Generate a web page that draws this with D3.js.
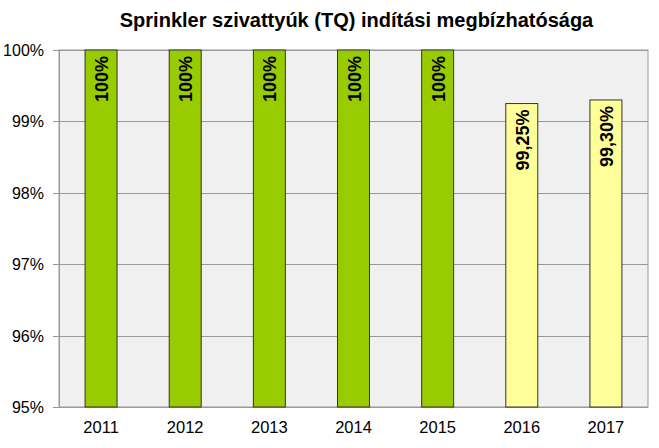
<!DOCTYPE html>
<html><head><meta charset="utf-8">
<script src="https://cdn.jsdelivr.net/npm/d3@7"></script>
<style>body{margin:0;background:#fff;font-family:Arial,"Liberation Sans",sans-serif;}</style>
</head><body><svg id="c" width="659" height="448"></svg>
<script>
const title = "Sprinkler szivattyúk (TQ) indítási megbízhatósága";
const years = ["2011","2012","2013","2014","2015","2016","2017"];
const values = [100,100,100,100,100,99.25,99.30];
const labels = ["100%","100%","100%","100%","100%","99,25%","99,30%"];
const colors = ["#99cc00","#99cc00","#99cc00","#99cc00","#99cc00","#ffff99","#ffff99"];
const yTicks = [95,96,97,98,99,100];

const svg = d3.select("#c");
const m = {l:59, r:648, t:50, b:407};
const x = d3.scaleBand().domain(years).range([m.l,m.r]).paddingInner(0.62).paddingOuter(0.31);
const y = d3.scaleLinear().domain([95,100]).range([m.b,m.t]);

svg.append("rect").attr("x",m.l).attr("y",m.t).attr("width",m.r-m.l).attr("height",m.b-m.t)
  .attr("fill","#f0f0f0").attr("stroke","#999").attr("stroke-width",1);

svg.append("g").selectAll("line").data(yTicks).join("line")
  .attr("x1",m.l-6).attr("x2",m.r).attr("y1",d=>Math.round(y(d))+0.5).attr("y2",d=>Math.round(y(d))+0.5)
  .attr("stroke","#999").attr("stroke-width",1);

svg.append("g").selectAll("text").data(yTicks).join("text")
  .attr("x",m.l-15).attr("y",d=>y(d)+6).attr("text-anchor","end")
  .attr("font-size","16px").attr("fill","#000").text(d=>d+"%");

svg.append("line").attr("x1",m.l+0.5).attr("x2",m.l+0.5).attr("y1",m.t).attr("y2",m.b).attr("stroke","#999");

svg.append("g").selectAll("rect").data(years).join("rect")
  .attr("x",d=>x(d)).attr("width",x.bandwidth())
  .attr("y",(d,i)=>y(values[i])).attr("height",(d,i)=>m.b-y(values[i]))
  .attr("fill",(d,i)=>colors[i]).attr("stroke","#333").attr("stroke-width",1);

svg.append("g").selectAll("text").data(years).join("text")
  .attr("transform",(d,i)=>`translate(${x(d)+x.bandwidth()/2+7},${y(values[i])+6}) rotate(-90)`)
  .attr("text-anchor","end").attr("font-size","18px").attr("font-weight","bold")
  .text((d,i)=>labels[i]);

svg.append("g").selectAll("text").data(years).join("text")
  .attr("x",d=>x(d)+x.bandwidth()/2).attr("y",m.b+26).attr("text-anchor","middle")
  .attr("font-size","16.5px").text(d=>d);

svg.append("text").attr("x",356.5).attr("y",26.5).attr("text-anchor","middle")
  .attr("font-size","20px").attr("font-weight","bold").text(title);
</script></body></html>
